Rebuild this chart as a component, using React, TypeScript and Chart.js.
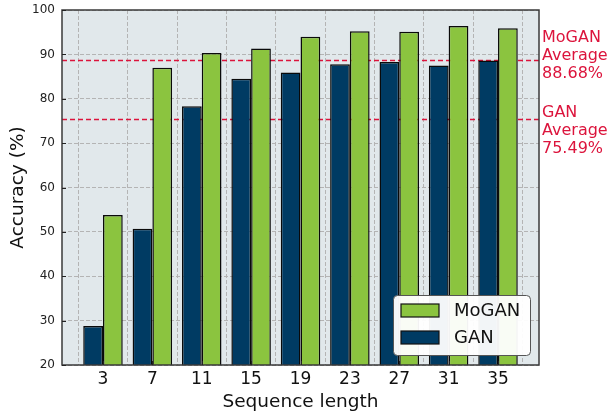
import React, { useEffect, useRef } from "react";
import { Chart, registerables } from "chart.js";

Chart.register(...registerables);

const categories = ["3", "7", "11", "15", "19", "23", "27", "31", "35"];
const ganValues = [28.8, 50.7, 78.3, 84.5, 85.9, 87.8, 88.3, 87.5, 88.6];
const moganValues = [53.8, 87.0, 90.3, 91.3, 94.0, 95.2, 95.1, 96.4, 95.9];
const moganAverage = 88.68;
const ganAverage = 75.49;
const moganAvgLabel = ["MoGAN", "Average", "88.68%"];
const ganAvgLabel = ["GAN", "Average", "75.49%"];
const legendLabels = ["MoGAN", "GAN"];

const GREEN = "#8bc43f";
const NAVY = "#003b63";
const CRIMSON = "#dc143c";
const FONT = "'DejaVu Sans', sans-serif";

const decorPlugin = {
  id: "decor",
  beforeDraw(chart: any) {
    const { ctx, chartArea: a } = chart;
    ctx.save();
    ctx.fillStyle = "#e1e8eb";
    ctx.fillRect(a.left, a.top, a.right - a.left, a.bottom - a.top);
    ctx.restore();
  },
  beforeDatasetsDraw(chart: any) {
    const { ctx, chartArea: a } = chart;
    const y = chart.scales.y;
    ctx.save();
    ctx.strokeStyle = CRIMSON;
    ctx.lineWidth = 1.3;
    ctx.setLineDash([5, 3]);
    [moganAverage, ganAverage].forEach((v) => {
      const py = Math.round(y.getPixelForValue(v)) + 0.5;
      ctx.beginPath();
      ctx.moveTo(a.left, py);
      ctx.lineTo(a.right, py);
      ctx.stroke();
    });
    ctx.restore();
  },
  afterDatasetsDraw(chart: any) {
    const { ctx, chartArea: a } = chart;
    const y = chart.scales.y;
    const x = chart.scales.x;
    ctx.save();
    // average labels
    ctx.fillStyle = CRIMSON;
    ctx.font = `16px ${FONT}`;
    ctx.textAlign = "left";
    ctx.textBaseline = "alphabetic";
    const drawBlock = (lines: string[], v: number, off: number) => {
      const py = y.getPixelForValue(v);
      lines.forEach((t, i) => {
        ctx.fillText(t, a.right + 3, py + off + i * 18);
      });
    };
    drawBlock(moganAvgLabel, moganAverage, -18);
    drawBlock(ganAvgLabel, ganAverage, -2);

    // border
    ctx.strokeStyle = "#3a3a3a";
    ctx.lineWidth = 1.5;
    ctx.strokeRect(a.left, a.top, a.right - a.left, a.bottom - a.top);
    // inward ticks
    ctx.lineWidth = 1;
    ctx.strokeStyle = "#222";
    y.ticks.forEach((t: any) => {
      const py = Math.round(y.getPixelForValue(t.value)) + 0.5;
      ctx.beginPath();
      ctx.moveTo(a.left, py);
      ctx.lineTo(a.left + 4, py);
      ctx.stroke();
    });
    x.ticks.forEach((t: any) => {
      const px = Math.round(x.getPixelForValue(t.value)) + 0.5;
      ctx.beginPath();
      ctx.moveTo(px, a.bottom);
      ctx.lineTo(px, a.bottom - 4);
      ctx.stroke();
    });

    // legend box
    const bw = 137;
    const bh = 60;
    const bx = a.right - 9 - bw;
    const by = a.bottom - 10 - bh;
    ctx.fillStyle = "rgba(255,255,255,0.95)";
    ctx.strokeStyle = "#555";
    ctx.lineWidth = 1;
    ctx.beginPath();
    (ctx as any).roundRect(bx + 0.5, by + 0.5, bw, bh, 4);
    ctx.fill();
    ctx.stroke();
    const colors = [GREEN, NAVY];
    ctx.font = `18px ${FONT}`;
    ctx.textBaseline = "middle";
    legendLabels.forEach((lab, i) => {
      const sy = by + 9 + i * 27;
      ctx.fillStyle = colors[i];
      ctx.fillRect(bx + 8, sy, 38, 13);
      ctx.strokeStyle = "#111";
      ctx.lineWidth = 1.2;
      ctx.strokeRect(bx + 8, sy, 38, 13);
      ctx.fillStyle = "#111";
      ctx.fillText(lab, bx + 61, sy + 7.5);
    });
    ctx.restore();
  },
};

export default function App() {
  const ref = useRef<HTMLCanvasElement | null>(null);
  useEffect(() => {
    document.body.style.margin = "0";
    const ctx = ref.current!.getContext("2d")!;
    const chart = new Chart(ctx, {
      type: "bar",
      data: {
        datasets: [
          {
            label: "GAN",
            data: ganValues.map((v, i) => ({ x: i, y: v })),
            backgroundColor: NAVY,
            borderColor: "#0a0a0a",
            borderWidth: 1.5,
            borderSkipped: false,
          },
          {
            label: "MoGAN",
            data: moganValues.map((v, i) => ({ x: i, y: v })),
            backgroundColor: GREEN,
            borderColor: "#0a0a0a",
            borderWidth: 1.5,
            borderSkipped: false,
          },
        ],
      },
      options: {
        animation: false,
        responsive: true,
        maintainAspectRatio: false,
        layout: { padding: { left: 0, top: 10, right: 69, bottom: 0 } },
        datasets: { bar: { categoryPercentage: 0.8, barPercentage: 1.0 } },
        plugins: { legend: { display: false }, tooltip: { enabled: false } },
        scales: {
          x: {
            type: "linear",
            min: -0.83,
            max: 8.83,
            offset: false,
            afterBuildTicks: (s: any) => {
              s.ticks = categories.map((_, i) => ({ value: i }));
            },
            afterFit: (s: any) => {
              s.height = 49;
              s.paddingLeft = 0;
              s.paddingRight = 0;
            },
            ticks: {
              callback: (v: any) => categories[v] ?? "",
              font: { family: FONT, size: 17 },
              color: "#111",
              padding: 4,
              autoSkip: false,
              maxRotation: 0,
            },
            grid: { color: "#b4b4b4", lineWidth: 1, drawTicks: false },
            border: { display: false, dash: [4, 2] },
            title: {
              display: true,
              text: "Sequence length",
              font: { family: FONT, size: 18.5 },
              color: "#111",
              padding: { top: 0, bottom: 1 },
            },
          },
          y: {
            min: 20,
            max: 100,
            afterFit: (s: any) => {
              s.width = 62;
              s.paddingTop = 0;
              s.paddingBottom = 0;
            },
            ticks: {
              stepSize: 10,
              font: { family: FONT, size: 12 },
              color: "#222",
              padding: 7,
            },
            grid: { color: "#b4b4b4", lineWidth: 1, drawTicks: false },
            border: { display: false, dash: [4, 2] },
            title: {
              display: true,
              text: "Accuracy (%)",
              font: { family: FONT, size: 18.5 },
              color: "#111",
              padding: { top: 7, bottom: 0 },
            },
          },
        },
      },
      plugins: [decorPlugin],
    } as any);
    return () => chart.destroy();
  }, []);
  return (
    <div style={{ width: 608, height: 414, position: "relative" }}>
      <canvas ref={ref} />
    </div>
  );
}
